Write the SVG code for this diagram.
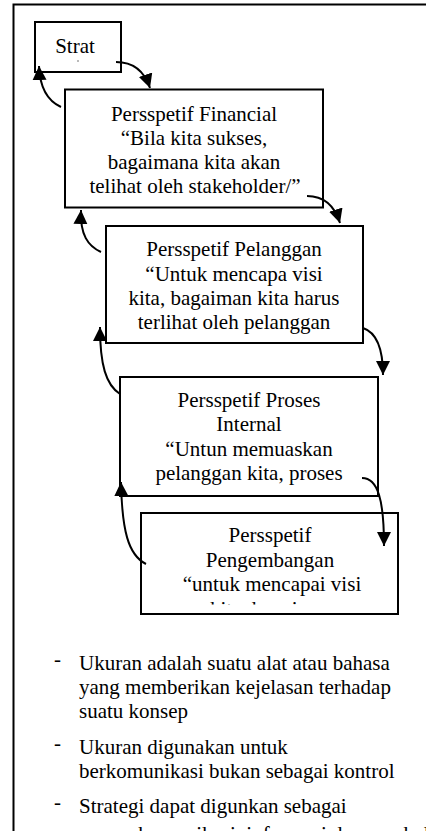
<svg xmlns="http://www.w3.org/2000/svg" width="426" height="831" viewBox="0 0 426 831">
  <style>
    .box { fill: #ffffff; stroke: #000000; stroke-width: 2; }
    .frame { fill: none; stroke: #000000; stroke-width: 2; }
    .t { font-family: "Liberation Serif", "Times New Roman", serif; font-size: 21px; fill: #000000; }
    .c { text-anchor: middle; }
    .link { fill: none; stroke: #000000; stroke-width: 2; marker-end: url(#head); }
  </style>
  <defs>
    <marker id="head" markerUnits="userSpaceOnUse" markerWidth="16" markerHeight="16" refX="14" refY="7" orient="auto">
      <path d="M0,0 L14,7 L0,14 Z" fill="#000000"/>
    </marker>
    <clipPath id="clipDev">
      <rect x="142" y="514" width="255" height="90.5"/>
    </clipPath>
  </defs>

  <rect width="426" height="831" fill="#ffffff"/>

  <!-- page frame -->
  <path class="frame" d="M13.5,831 V4.5 H426"/>

  <!-- perspective boxes -->
  <g id="strat">
    <rect class="box" x="35" y="22" width="86" height="50"/>
    <text class="t c" x="75" y="53">Strat</text>
    <rect x="77" y="60.5" width="2" height="1" fill="#777777"/>
  </g>

  <g id="financial">
    <rect class="box" x="65" y="89.5" width="258" height="118"/>
    <text class="t c" x="194" y="121">Persspetif Financial</text>
    <text class="t c" x="194" y="145">“Bila kita sukses,</text>
    <text class="t c" x="194" y="169">bagaimana kita akan</text>
    <text class="t c" x="195" y="193">telihat oleh stakeholder/”</text>
  </g>

  <g id="pelanggan">
    <rect class="box" x="106" y="226" width="257" height="117"/>
    <text class="t c" x="234" y="256">Persspetif Pelanggan</text>
    <text class="t c" x="234" y="281">“Untuk mencapa visi</text>
    <text class="t c" x="234" y="305">kita, bagaiman kita harus</text>
    <text class="t c" x="234" y="329">terlihat oleh pelanggan</text>
  </g>

  <g id="proses">
    <rect class="box" x="120" y="377" width="258" height="119"/>
    <text class="t c" x="249" y="407">Persspetif Proses</text>
    <text class="t c" x="249" y="431">Internal</text>
    <text class="t c" x="249" y="456">“Untun memuaskan</text>
    <text class="t c" x="249" y="480">pelanggan kita, proses</text>
  </g>

  <g id="pengembangan">
    <rect class="box" x="141" y="513" width="257" height="101"/>
    <text class="t c" x="270" y="542">Persspetif</text>
    <text class="t c" x="270" y="567">Pengembangan</text>
    <text class="t c" x="272" y="591">“untuk mencapai visi</text>
    <text class="t" x="210" y="616" clip-path="url(#clipDev)">kita, bagaimana</text>
  </g>

  <!-- curved links between the perspectives -->
  <g id="connectors">
    <path class="link" d="M116,62 C132,62 144,70 150,88"/>
    <path class="link" d="M61,107 C50,102 40,92 39,66"/>
    <path class="link" d="M307,196 C322,196 334,204 340,223"/>
    <path class="link" d="M101,252 C88,246 80,235 81,210"/>
    <path class="link" d="M363,328 C375,332 383,345 383,375"/>
    <path class="link" d="M120,394 C106,385 100,365 100,327"/>
    <path class="link" d="M362,478 C378,478 384,500 384,546"/>
    <path class="link" d="M146,564 C128,555 122,530 121,482"/>
  </g>

  <!-- notes below the chart -->
  <g id="notes">
    <text class="t" x="54" y="666">-</text>
    <text class="t" x="79" y="670">Ukuran adalah suatu alat atau bahasa</text>
    <text class="t" x="79" y="694">yang memberikan kejelasan terhadap</text>
    <text class="t" x="79" y="718">suatu konsep</text>
    <text class="t" x="54" y="750">-</text>
    <text class="t" x="79" y="754">Ukuran digunakan untuk</text>
    <text class="t" x="79" y="778">berkomunikasi bukan sebagai kontrol</text>
    <text class="t" x="54" y="809">-</text>
    <text class="t" x="79" y="813">Strategi dapat digunkan sebagai</text>
    <text class="t" x="79" y="841">sarana komunikasi, informasi dan pembelajaran</text>
  </g>
</svg>
